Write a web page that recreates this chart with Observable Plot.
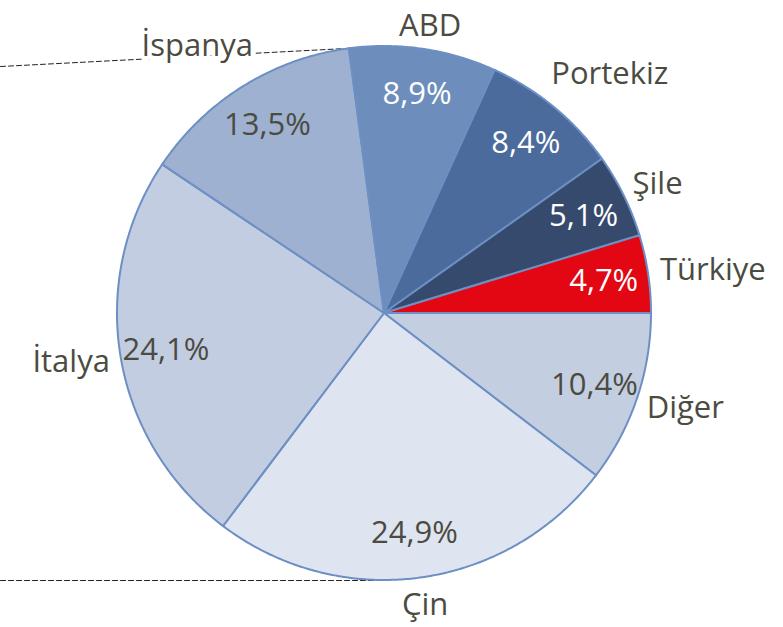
<!DOCTYPE html>
<html>
<head>
<meta charset="utf-8">
<script src="https://cdn.jsdelivr.net/npm/d3@7"></script>
<script src="https://cdn.jsdelivr.net/npm/@observablehq/plot@0.6"></script>
<style>
  html, body { margin: 0; padding: 0; background: #fff; }
  #chart { width: 783px; height: 627px; }
</style>
</head>
<body>
<div id="chart"></div>
<script>
// ---- data (clockwise from 3 o'clock) ----
const categories = ["Diğer", "Çin", "İtalya", "İspanya", "ABD", "Portekiz", "Şile", "Türkiye"];
const shares = [10.4, 24.9, 24.1, 13.5, 8.9, 8.4, 5.1, 4.7];
const sliceColors = ["#c4cee1", "#dfe5f0", "#c3cde1", "#9eb1d0", "#6d8dbd", "#4b6b9d", "#364a6d", "#e30613"];
const whiteLabelCategories = ["ABD", "Portekiz", "Şile", "Türkiye"];

// ---- layout ----
const W = 783, H = 627;
const CX = 384, CY = 313, R = 267;
const FONT = "Open Sans";
const FS = 31;
const TEXT = "#4b4b41";
const labelGapPx = {"İspanya": 32, "Portekiz": 28};
const defaultGap = 12;
const minLabelTopPx = 26;

const xDomain = [-CX / R, (W - CX) / R];
const yDomain = [(CY - H) / R, CY / R];

const total = d3.sum(shares);
const fmt = v => v.toFixed(1).replace(".", ",") + "%";

// measure text widths
const ctx = document.createElement("canvas").getContext("2d");
ctx.font = `${FS}px "${FONT}"`;

let acc = 0;
const slices = categories.map((name, i) => {
  const a0 = acc / total * 2 * Math.PI;
  acc += shares[i];
  const a1 = acc / total * 2 * Math.PI;
  return {name, value: shares[i], a0, a1, mid: (a0 + a1) / 2};
});

// sector outlines (arc points with center as baseline)
const areaRows = [];
for (const s of slices) {
  const n = Math.max(2, Math.ceil((s.a1 - s.a0) / (Math.PI / 360)));
  for (let k = 0; k <= n; k++) {
    const a = s.a0 + (s.a1 - s.a0) * k / n;
    areaRows.push({name: s.name, x1: Math.cos(a), y1: -Math.sin(a), x2: 0, y2: 0});
  }
}

const pctLabels = slices.map(s => ({
  name: s.name,
  text: fmt(s.value),
  x: 0.83 * Math.cos(s.mid),
  y: -0.83 * Math.sin(s.mid),
  white: whiteLabelCategories.includes(s.name)
}));

const catLabels = slices.map(s => {
  const gap = labelGapPx[s.name] ?? defaultGap;
  const w = ctx.measureText(s.name).width;
  const h = FS;
  const c = Math.cos(s.mid), sn = Math.sin(s.mid);
  const px = (R + gap) * c + c * w / 2;
  let py = (R + gap) * sn + sn * h / 2;
  py = Math.max(py, minLabelTopPx - CY);
  return {name: s.name, x: px / R, y: -py / R};
});

const connectorTop = [{x: xDomain[0], y: 0.925}, {x: 0, y: 1}];
const connectorBottom = [{x: xDomain[0], y: -1}, {x: 0, y: -1}];

const chart = Plot.plot({
  width: W,
  height: H,
  margin: 0,
  x: {domain: xDomain, axis: null},
  y: {domain: yDomain, axis: null},
  color: {domain: categories, range: sliceColors},
  style: {fontFamily: FONT, background: "#fff"},
  marks: [
    Plot.line(connectorTop, {x: "x", y: "y", stroke: "#222", strokeWidth: 1, strokeDasharray: "5,3"}),
    Plot.line(connectorBottom, {x: "x", y: "y", stroke: "#222", strokeWidth: 1, strokeDasharray: "5,3"}),
    Plot.area(areaRows, {
      x1: "x1", y1: "y1", x2: "x2", y2: "y2", z: "name",
      fill: "name", stroke: "#6c8fc4", strokeWidth: 2, strokeLinejoin: "round", curve: "linear"
    }),
    Plot.text(pctLabels, {
      x: "x", y: "y", text: "text",
      fill: d => d.white ? "#ffffff" : TEXT,
      fontSize: FS, textAnchor: "middle", lineAnchor: "middle"
    }),
    Plot.text(catLabels.filter(d => d.name === "İspanya"), {
      x: "x", y: "y", text: "name", fill: TEXT,
      stroke: "white", strokeWidth: 8,
      fontSize: FS, textAnchor: "middle", lineAnchor: "middle"
    }),
    Plot.text(catLabels.filter(d => d.name !== "İspanya"), {
      x: "x", y: "y", text: "name", fill: TEXT,
      fontSize: FS, textAnchor: "middle", lineAnchor: "middle"
    })
  ]
});

document.getElementById("chart").appendChild(chart);
</script>
</body>
</html>
